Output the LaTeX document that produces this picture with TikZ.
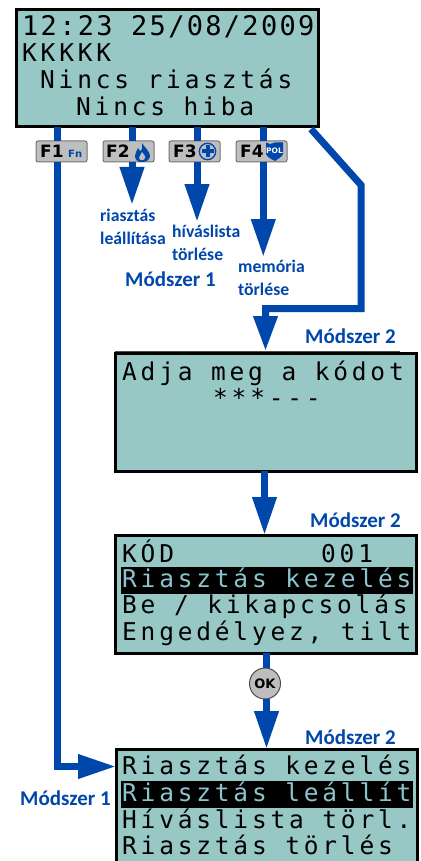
\documentclass[tikz,border=0pt]{standalone}
\usepackage{fontspec}
\usetikzlibrary{arrows.meta}
\setmainfont{Carlito}
\newfontfamily\lcdA[LetterSpace=8.5]{DejaVu Sans Mono}
\newfontfamily\lcdB[LetterSpace=15.5]{DejaVu Sans Mono}
\newfontfamily\keyf{DejaVu Sans}
\definecolor{lcd}{HTML}{97C8C6}
\definecolor{lcdtxt}{HTML}{8CC3CC}
\definecolor{flow}{HTML}{0047AB}
\definecolor{keyg}{HTML}{BEBEBE}
\tikzset{
  screen/.style={draw=black,line width=3pt,fill=lcd,anchor=north west,outer sep=0pt,inner sep=0pt},
  big/.style={anchor=base west,inner sep=0pt,font=\fontsize{27}{27}\lcdA},
  row/.style={anchor=base west,inner sep=0pt,font=\fontsize{24.5}{24.5}\lcdB},
  hl/.style={row,text=lcdtxt},
  bar/.style={fill=black,anchor=north west,inner sep=0pt,minimum width=292pt,minimum height=27pt},
  keybox/.style={draw=black!55,line width=1pt,fill=keyg,rounded corners=2pt,anchor=north west,inner sep=0pt,minimum width=51pt,minimum height=21pt,outer sep=0pt},
  keytxt/.style={anchor=base west,inner sep=0pt,font=\fontsize{17}{17}\keyf\bfseries},
  flowline/.style={draw=flow,line width=7pt},
  flowarrow/.style={flowline,-{Triangle[length=38pt,width=23pt]}},
  note/.style={anchor=base west,inner sep=0pt,text=flow,font=\fontsize{17.7}{17.7}\selectfont\bfseries},
  method/.style={anchor=base west,inner sep=0pt,text=flow,font=\fontsize{21}{21}\selectfont\bfseries}
}
\begin{document}
\begin{tikzpicture}[x=1pt,y=-1pt]
\clip (0,0) rectangle (420,861);
\fill[white] (0,0) rectangle (420,861);
% screens
\node[screen,minimum width=302pt,minimum height=117pt] (s1) at (16,10) {};
\node[screen,minimum width=301pt,minimum height=118pt] (s2) at (115,353) {};
\node[screen,minimum width=301pt,minimum height=118pt] (s3) at (115,535) {};
\node[screen,minimum width=301pt,minimum height=125pt] (s4) at (116,749) {};
\draw[black!70,line width=1pt] (s2.north west) ++(0,-2) -- ++(285,0);
% screen text
\node[big] (t11) at (22,36) {12:23 25/08/2009};
\node[row] (t12) at (22,62) {KKKKK};
\node[row] (t13) at (40,89) {Nincs riasztás};
\node[row] (t14) at (76,116) {Nincs hiba};
\node[row] (t21) at (122,380) {Adja meg a kódot};
\node[row] (t22) at (213,406) {***---};
\node[bar] (b3) at (121,567) {};
\node[bar] (b4) at (121,781) {};
\node[row] (t31) at (122,562) {KÓD};
\node[row] (t32) at (321,562) {001};
\node[hl] (t33) at (122,587) {Riasztás kezelés};
\node[row] (t34) at (122,613) {Be / kikapcsolás};
\node[row] (t35) at (122,640) {Engedélyez, tilt};
\node[row] (t41) at (122,774) {Riasztás kezelés};
\node[hl] (t42) at (122,801) {Riasztás leállít};
\node[row] (t43) at (122,828) {Híváslista törl.};
\node[row] (t44) at (122,854) {Riasztás törlés};
% keys
\node[keybox] (f1) at (36,141) {};
\node[keybox] (f2) at (103,141) {};
\node[keybox] (f3) at (169,141) {};
\node[keybox] (f4) at (236,141) {};
\node[keytxt] (f1t) at (40,158) {F1};
\node[keytxt] (f2t) at (106,158) {F2};
\node[keytxt] (f3t) at (173,158) {F3};
\node[keytxt] (f4t) at (240,158) {F4};
\node[anchor=base west,inner sep=0pt,text=flow,font=\fontsize{10}{10}\keyf\bfseries] (fn) at (68,158) {Fn};
% flame
\fill[flow] (142,143) .. controls (144,147) and (150,151) .. (150,156)
  .. controls (150,160) and (146,162) .. (142,162)
  .. controls (138,162) and (135,160) .. (135,156)
  .. controls (135,153) and (137,151) .. (138,148)
  .. controls (139,150) and (140,151) .. (141,151)
  .. controls (142,149) and (143,146) .. (142,143) -- cycle;
\fill[keyg] (142,152) .. controls (143,154) and (146,156) .. (145,158)
  .. controls (144,161) and (140,161) .. (139,158)
  .. controls (139,156) and (141,155) .. (142,152) -- cycle;
% cross in circle
\draw[flow,line width=1.3pt,fill=keyg] (207.5,151.5) circle (8.2);
\fill[flow] (205.5,145.5) rectangle (209.5,157.5);
\fill[flow] (201.5,149.5) rectangle (213.5,153.5);
% shield
\fill[flow] (266,142.5) -- (270,144) -- (275,142.5) -- (283,142.5) -- (283,154)
  .. controls (282,157) and (278,159) .. (275,161)
  .. controls (271,159) and (267,157) .. (266,154) -- cycle;
\node[anchor=center,inner sep=0pt,text=white,font=\fontsize{7.5}{7.5}\keyf\bfseries] (pol) at (274.5,150.5) {POL};
% connector coordinates
\coordinate (x1) at (57,0);
\coordinate (x2) at (132,0);
\coordinate (x3) at (197,0);
\coordinate (x4) at (263.3,0);
\coordinate (x6) at (264.5,0);
\coordinate (xs) at (266.5,0);
\coordinate (tip2) at (132,205);
\coordinate (tip3) at (197,222);
\coordinate (tip4) at (263.3,257);
\coordinate (d0) at (311,129);
\coordinate (d1) at (361,185);
\coordinate (d2) at (361,308.5);
\coordinate (d3) at (265.5,308.5);
\coordinate (d4) at (265.5,351);
\coordinate (c1) at (57,766.5);
% OK
\node[draw=black!70,line width=1pt,fill=keyg,circle,minimum size=31pt,inner sep=0pt,outer sep=0pt,font=\fontsize{13}{13}\keyf\bfseries] (ok) at (265,683.5) {OK};
% connectors
\draw[flowline] (s1.south -| x1) -- (f1.north -| x1);
\draw[flowline] (s1.south -| x2) -- (f2.north -| x2);
\draw[flowline] (s1.south -| x3) -- (f3.north -| x3);
\draw[flowline] (s1.south -| x4) -- (f4.north -| x4);
\draw[flowarrow] (f2.south -| x2) -- (tip2);
\draw[flowarrow] (f3.south -| x3) -- (tip3);
\draw[flowarrow] (f4.south -| x4) -- (tip4);
\draw[flowarrow] (f1.south -| x1) |- (s4.west |- c1);
\draw[flowline,-{Triangle[length=35pt,width=23pt]},line join=miter] (d0) -- (d1) -- (d2) -- (d3) -- (d4);
\draw[flowarrow] (s2.south -| x6) -- (s3.north -| x6);
\draw[flowline] (s3.south -| xs) -- (ok.north -| xs);
\draw[flowarrow] (ok.south -| xs) -- (s4.north -| xs);
% labels
\node[note] (n1) at (100,221) {riasztás};
\node[note] (n2) at (100,244) {leállítása};
\node[note] (n3) at (172,237) {híváslista};
\node[note] (n4) at (172,260) {törlése};
\node[note] (n5) at (238,272) {memória};
\node[note] (n6) at (238,295) {törlése};
\node[method] (m1) at (125,286) {Módszer 1};
\node[method] (m2) at (305,343) {Módszer 2};
\node[method] (m3) at (310,527) {Módszer 2};
\node[method] (m4) at (305,744) {Módszer 2};
\node[method] (m5) at (20,805) {Módszer 1};
\end{tikzpicture}
\end{document}
